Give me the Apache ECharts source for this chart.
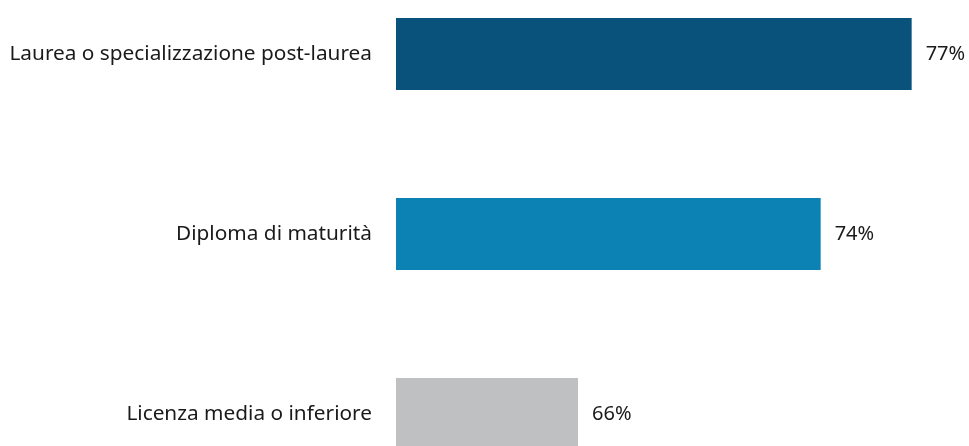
<!DOCTYPE html>
<html>
<head>
<meta charset="utf-8">
<script src="https://cdn.jsdelivr.net/npm/echarts@6/dist/echarts.min.js"></script>
<style>
  html, body { margin: 0; padding: 0; background: #ffffff; }
  #chart { width: 969px; height: 446px; }
</style>
</head>
<body>
<div id="chart"></div>
<script>
// Share by education level
const categories = [
  'Laurea o specializzazione post-laurea',
  'Diploma di maturità',
  'Licenza media o inferiore'
];
const values = [77, 74, 66];
const barColors = ['#09527c', '#0c82b4', '#bfc0c2'];

const chart = echarts.init(document.getElementById('chart'));
const font = '"Noto Sans", "Open Sans", sans-serif';

chart.setOption({
  animation: false,
  grid: {
    left: 396, width: 546, top: -36, height: 540,
    outerBoundsMode: 'none'
  },
  xAxis: {
    type: 'value',
    min: 60,
    max: 78,
    show: false
  },
  yAxis: {
    type: 'category',
    data: categories,
    inverse: true,
    axisLine: { show: false },
    axisTick: { show: false },
    splitLine: { show: false },
    axisLabel: {
      margin: 24,
      color: '#1a1a1a',
      fontSize: 20.8,
      fontFamily: font
    }
  },
  series: [{
    type: 'bar',
    barWidth: 72,
    data: values.map((v, i) => ({ value: v, itemStyle: { color: barColors[i] } })),
    label: {
      show: true,
      position: 'right',
      distance: 14,
      color: '#1a1a1a',
      fontSize: 20,
      fontFamily: font,
      formatter: p => p.value + '%'
    }
  }]
});
</script>
</body>
</html>
